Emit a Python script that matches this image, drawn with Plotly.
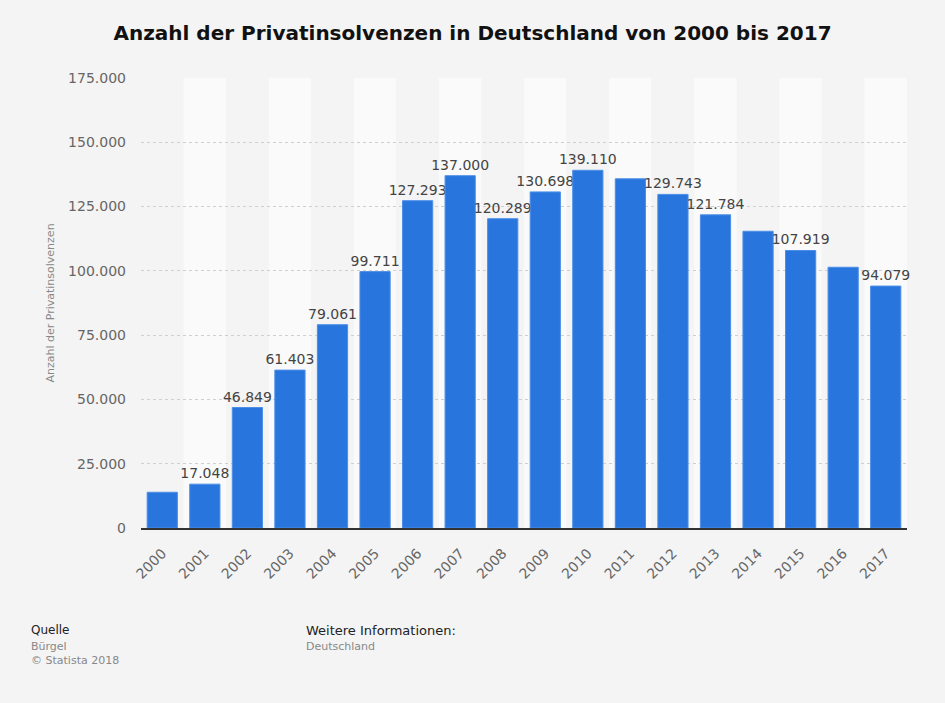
import plotly.graph_objects as go

years = [str(y) for y in range(2000, 2018)]
values = [13900, 17048, 46849, 61403, 79061, 99711, 127293, 137000, 120289,
          130698, 139110, 135800, 129743, 121784, 115400, 107919, 101400, 94079]
shown = [False, True, True, True, True, True, True, True, True,
         True, True, False, True, True, False, True, False, True]
y_ticks = [0, 25000, 50000, 75000, 100000, 125000, 150000, 175000]

def de(n):
    return f"{n:,}".replace(",", ".")

labels = [de(v) if s else "" for v, s in zip(values, shown)]

FONT = "DejaVu Sans"
fig = go.Figure()
fig.add_trace(go.Bar(
    x=years, y=values, text=labels, textposition="outside", constraintext="none",
    textfont=dict(family=FONT, size=14, color="#444444"),
    marker=dict(color="#2876dd", line=dict(color="#4d8ee6", width=1)),
    cliponaxis=False, hoverinfo="skip",
))

# alternating category bands
for i in range(len(years)):
    fig.add_shape(type="rect", xref="x", yref="paper", x0=i - 0.5, x1=i + 0.5,
                  y0=0, y1=1, layer="below", line_width=0,
                  fillcolor="#fafafa" if i % 2 == 1 else "#f4f4f4")

fig.update_layout(
    width=945, height=703,
    paper_bgcolor="#f4f4f4", plot_bgcolor="#f4f4f4",
    margin=dict(l=141, r=38, t=78, b=175),
    bargap=0.29, showlegend=False,
    font=dict(family=FONT),
    title=dict(text="<b>Anzahl der Privatinsolvenzen in Deutschland von 2000 bis 2017</b>",
               x=0.5, xanchor="center", y=1 - 33 / 703, yanchor="middle",
               font=dict(family=FONT, size=20, color="#111111")),
    xaxis=dict(type="category", tickangle=-45, showgrid=False,
               tickfont=dict(family=FONT, size=14, color="#666666"),
               showline=True, linecolor="#333333", linewidth=1.5, ticks="",
               ticklabelstandoff=10,
               range=[-0.5, len(years) - 0.5]),
    yaxis=dict(range=[0, 175000], tickvals=y_ticks, ticktext=[de(v) for v in y_ticks],
               tickfont=dict(family=FONT, size=14, color="#666666"),
               showgrid=True, gridcolor="#cfcfcf", griddash="dot", gridwidth=1,
               zeroline=False, ticks="", ticklabelstandoff=14,
               title=dict(text="Anzahl der Privatinsolvenzen", standoff=11,
                          font=dict(family=FONT, size=11, color="#888888"))),
)

footer = [
    (29, 630, "Quelle", 12, "#222222"),
    (29, 646, "Bürgel", 11, "#888888"),
    (29, 660, "© Statista 2018", 11, "#888888"),
    (304, 630, "Weitere Informationen:", 13, "#222222"),
    (304, 646, "Deutschland", 11, "#888888"),
]
for x, y, t, s, c in footer:
    fig.add_annotation(text=t, xref="paper", yref="paper",
                       x=(x - 141) / (945 - 141 - 38), y=1 - (y - 78) / (703 - 78 - 175),
                       xanchor="left", yanchor="middle", showarrow=False,
                       font=dict(family=FONT, size=s, color=c))

fig.write_html("out.html", config={"displayModeBar": False},
               post_script="document.body.style.margin='0';document.body.style.background='#f4f4f4';")
